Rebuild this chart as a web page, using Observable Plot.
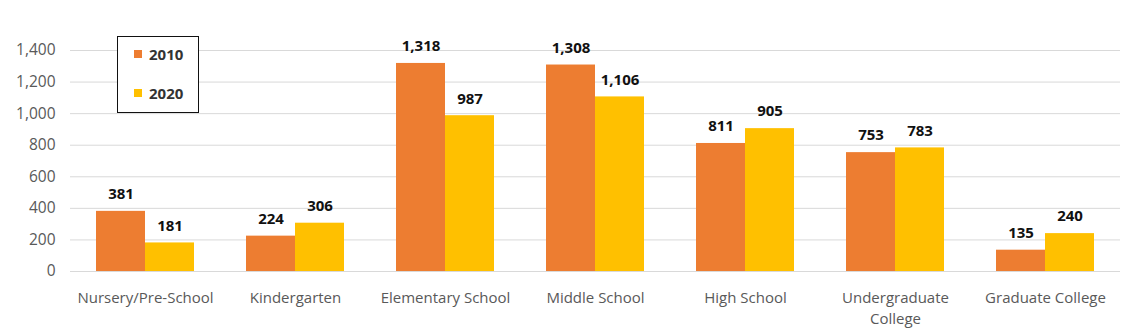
<!DOCTYPE html>
<html>
<head>
<meta charset="utf-8">
<script src="https://cdn.jsdelivr.net/npm/d3@7"></script>
<script src="https://cdn.jsdelivr.net/npm/@observablehq/plot@0.6"></script>
<style>
  html, body { margin: 0; padding: 0; background: #fff; }
  #wrap { position: relative; width: 1128px; height: 331px; font-family: "Open Sans", sans-serif; }
  #legend { position: absolute; left: 117px; top: 36px; width: 82px; height: 77px; border: 1.5px solid #111; background: #fff; box-sizing: border-box; }
  .item { position: absolute; left: 16px; display: flex; align-items: center; font-size: 15px; font-weight: bold; color: #333; line-height: 18px; }
  .sw { width: 8px; height: 8px; margin-right: 7px; }
</style>
</head>
<body>
<div id="wrap"><div id="chart"></div><div id="legend"></div></div>
<script>
const categories = ["Nursery/Pre-School", "Kindergarten", "Elementary School", "Middle School", "High School", "Undergraduate College", "Graduate College"];
const tickLabels = ["Nursery/Pre-School", "Kindergarten", "Elementary School", "Middle School", "High School", "Undergraduate\nCollege", "Graduate College"];
const years = ["2010", "2020"];
const values2010 = [381, 224, 1318, 1308, 811, 753, 135];
const values2020 = [181, 306, 987, 1106, 905, 783, 240];
const colors = ["#ED7D31", "#FFC000"];
const yTicks = [0, 200, 400, 600, 800, 1000, 1200, 1400];

const data = [];
categories.forEach((c, i) => {
  data.push({category: c, year: years[0], value: values2010[i]});
  data.push({category: c, year: years[1], value: values2020[i]});
});

const fmt = d3.format(",");
const chart = Plot.plot({
  width: 1128,
  height: 331,
  marginLeft: 70,
  marginRight: 8,
  marginTop: 50,
  marginBottom: 60,
  style: {fontFamily: "'Open Sans', sans-serif", fontSize: "15px", color: "#595959", background: "#fff"},
  fx: {domain: categories, padding: 0, label: null},
  x: {domain: years, paddingInner: 0, paddingOuter: 0.53, axis: null},
  y: {domain: [0, 1400], label: null},
  color: {domain: years, range: colors},
  marks: [
    Plot.gridY(yTicks, {stroke: "#d9d9d9", strokeOpacity: 1, strokeWidth: 1}),
    Plot.axisY(yTicks, {tickSize: 0, tickPadding: 15, tickFormat: fmt, label: null, fontSize: 15.5, fill: "#595959"}),
    Plot.axisFx({anchor: "bottom", tickSize: 0, tickPadding: 17, label: null, lineHeight: 1.4, fontSize: 15, fill: "#595959",
                 tickFormat: d => tickLabels[categories.indexOf(d)]}),
    Plot.barY(data, {fx: "category", x: "year", y: "value", fill: "year"}),
    Plot.text(data, {fx: "category", x: "year", y: "value", text: d => fmt(d.value), dy: -17,
                     fontWeight: "bold", fontSize: 15, fill: "#111"})
  ]
});
document.getElementById("chart").appendChild(chart);

const legend = document.getElementById("legend");
years.forEach((y, i) => {
  const it = document.createElement("div");
  it.className = "item";
  it.style.top = (i === 0 ? 8 : 47) + "px";
  it.innerHTML = `<span class="sw" style="background:${colors[i]}"></span>${y}`;
  legend.appendChild(it);
});
</script>
</body>
</html>
